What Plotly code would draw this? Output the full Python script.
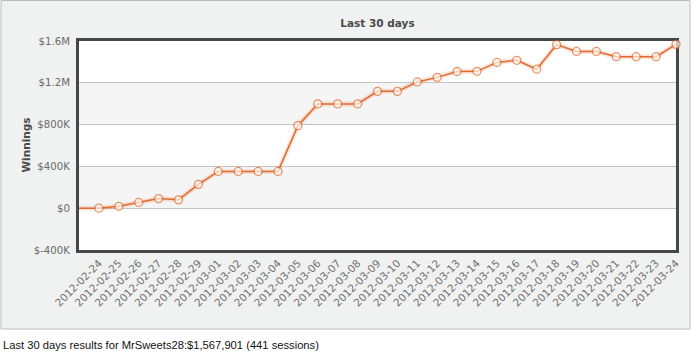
import plotly.graph_objects as go

# ---- data ----
dates = ["2012-02-23", "2012-02-24", "2012-02-25", "2012-02-26", "2012-02-27", "2012-02-28",
         "2012-02-29", "2012-03-01", "2012-03-02", "2012-03-03", "2012-03-04", "2012-03-05",
         "2012-03-06", "2012-03-07", "2012-03-08", "2012-03-09", "2012-03-10", "2012-03-11",
         "2012-03-12", "2012-03-13", "2012-03-14", "2012-03-15", "2012-03-16", "2012-03-17",
         "2012-03-18", "2012-03-19", "2012-03-20", "2012-03-21", "2012-03-22", "2012-03-23",
         "2012-03-24"]
winnings = [0, 0, 18000, 55000, 92000, 80000,
            228000, 352000, 352000, 352000, 352000, 790000,
            998000, 998000, 998000, 1118000, 1118000, 1208000,
            1252000, 1308000, 1310000, 1395000, 1415000, 1330000,
            1565000, 1500000, 1500000, 1450000, 1450000, 1450000,
            1567901]
tick_dates = dates[1:]
y_tickvals = [-400000, 0, 400000, 800000, 1200000, 1600000]
y_ticktext = ["$-400K", "$0", "$400K", "$800K", "$1.2M", "$1.6M"]
title_text = "Last 30 days"
ytitle_text = "Winnings"
footer_text = "Last 30 days results for MrSweets28:$1,567,901 (441 sessions)"

W, H = 700, 359
L, R, T, B = 79, 24, 41, 109
pw, ph = W - L - R, H - T - B

def px_x(p):
    return (p - L) / pw

def px_y(p):
    return (H - B - p) / ph

fig = go.Figure()

# shadow under line
fig.add_trace(go.Scatter(
    x=dates, y=winnings, mode="lines",
    line=dict(color="rgba(230,110,50,0.18)", width=5),
    hoverinfo="skip", cliponaxis=False, showlegend=False))

sizes = [0] + [8] * (len(dates) - 1)
fig.add_trace(go.Scatter(
    x=dates, y=winnings, mode="lines+markers",
    line=dict(color="#e0692e", width=1.5),
    marker=dict(size=sizes, color="#fff8f0", line=dict(color="#e0692e", width=1.3)),
    cliponaxis=False, showlegend=False))

shapes = []
# outer panel
shapes.append(dict(type="rect", xref="paper", yref="paper",
                   x0=px_x(1), x1=px_x(690), y0=px_y(329), y1=px_y(0.5),
                   fillcolor="#f0f1f1", line=dict(color="#bcbcbc", width=1), layer="below"))
# alternating bands
for i in range(len(y_tickvals) - 1):
    col = "#ffffff" if (len(y_tickvals) - 2 - i) % 2 == 0 else "#f5f5f5"
    shapes.append(dict(type="rect", xref="x domain", yref="y",
                       x0=0, x1=1, y0=y_tickvals[i], y1=y_tickvals[i + 1],
                       fillcolor=col, line=dict(width=0), layer="below"))

fig.update_layout(
    width=W, height=H,
    margin=dict(l=L, r=R, t=T, b=B, autoexpand=False),
    paper_bgcolor="white", plot_bgcolor="white",
    shapes=shapes,
    title=dict(text=title_text, x=(px_x(377.5) * pw + L) / W, xanchor="center",
               y=1 - 23 / H, yanchor="middle", yref="container",
               font=dict(family="DejaVu Sans", size=10.5, color="#4a4a4a", weight="bold")),
    font=dict(family="DejaVu Sans", color="#666666"),
    annotations=[
        dict(text=ytitle_text, xref="paper", yref="paper", x=px_x(25), y=0.5,
             textangle=-90, showarrow=False, xanchor="center", yanchor="middle",
             font=dict(family="DejaVu Sans", size=10.5, color="#4a4a4a", weight="bold")),
        dict(text=footer_text, xref="paper", yref="paper", x=px_x(1), y=px_y(345),
             showarrow=False, xanchor="left", yanchor="middle",
             font=dict(family="Liberation Sans", size=11.2, color="#111111")),
    ],
)

fig.update_xaxes(
    type="category", range=[0, len(dates) - 1],
    tickmode="array", tickvals=tick_dates, ticktext=tick_dates,
    tickangle=-45, tickfont=dict(size=10.5, color="#707070"),
    showgrid=False, zeroline=False, ticks="",
    showline=True, mirror=True, linecolor="#474747", linewidth=3,
    layer="below traces", automargin=False)
fig.update_yaxes(
    range=[-400000, 1600000],
    tickmode="array", tickvals=y_tickvals, ticktext=y_ticktext,
    tickfont=dict(size=10.2, color="#6a6a6a"),
    showgrid=True, gridcolor="#c4c4c4", gridwidth=1, zeroline=False, ticks="",
    ticklabelstandoff=4,
    showline=True, mirror=True, linecolor="#474747", linewidth=3,
    layer="below traces", automargin=False)

fig.write_html("out.html", config={"displayModeBar": False},
               post_script="document.body.style.margin='0px';")
